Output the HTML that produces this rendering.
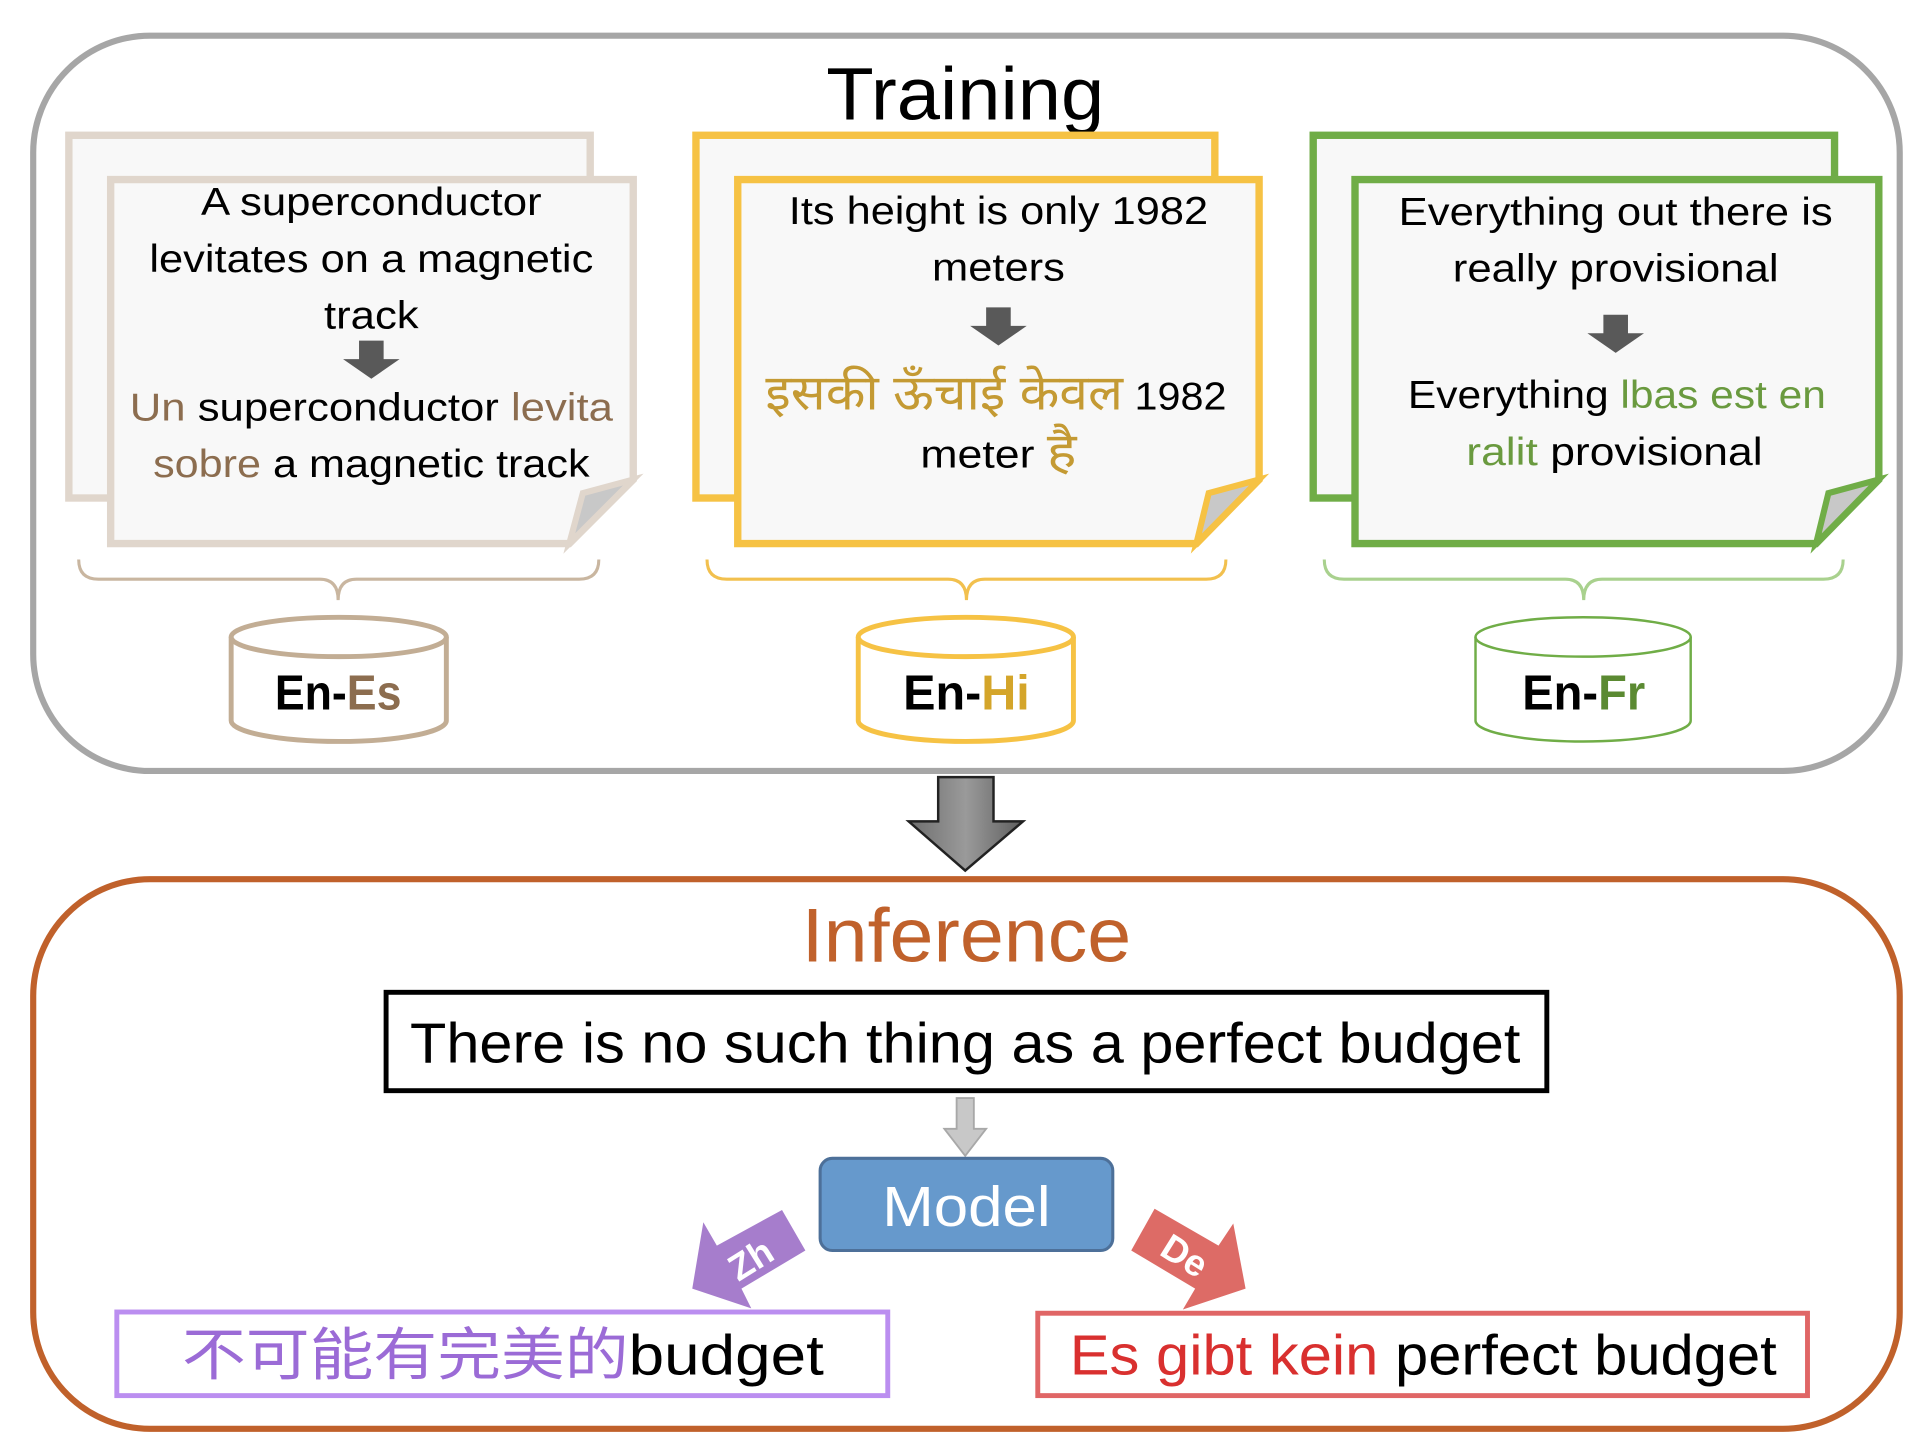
<!DOCTYPE html>
<html><head><meta charset="utf-8"><style>
html,body{margin:0;padding:0;background:#fff;}
svg{display:block;}
text{font-family:"Liberation Sans","Noto Sans CJK SC",sans-serif;}
</style></head><body>
<svg width="1928" height="1442" viewBox="0 0 1568 1172.7" xmlns="http://www.w3.org/2000/svg">
<defs>
<linearGradient id="g1" x1="0" y1="0" x2="1" y2="0">
<stop offset="0" stop-color="#6e6e6e"/><stop offset="0.5" stop-color="#9a9a9a"/><stop offset="1" stop-color="#5e5e5e"/>
</linearGradient>
</defs>
<rect width="1568" height="1173" fill="#fff"/>
<!-- Training box -->
<rect x="27" y="29" width="1518" height="598" rx="95" fill="#fff" stroke="#a6a6a6" stroke-width="5"/>
<text x="785" y="97" font-size="60" text-anchor="middle" textLength="226" lengthAdjust="spacingAndGlyphs">Training</text>

<!-- Es card -->
<rect x="56" y="110" width="424" height="295" fill="#f8f8f8" stroke="#e0d6cc" stroke-width="6"/>
<polygon points="90,146 515,146 515,390 463,442 90,442" fill="#f8f8f8" stroke="#e0d6cc" stroke-width="6"/>
<polygon points="463,442 474,401 515,390" fill="#c8c8c8" stroke="#e0d6cc" stroke-width="5"/>
<g font-size="32" text-anchor="middle" fill="#000">
<text x="302" y="175" textLength="277" lengthAdjust="spacingAndGlyphs">A superconductor</text>
<text x="302" y="221" textLength="361" lengthAdjust="spacingAndGlyphs">levitates on a magnetic</text>
<text x="302" y="267" textLength="77" lengthAdjust="spacingAndGlyphs">track</text>
<text x="302" y="342" textLength="393" lengthAdjust="spacingAndGlyphs"><tspan fill="#8c6d4f">Un</tspan> superconductor <tspan fill="#8c6d4f">levita</tspan></text>
<text x="302" y="388" textLength="355" lengthAdjust="spacingAndGlyphs"><tspan fill="#8c6d4f">sobre</tspan> a magnetic track</text>
</g>
<polygon points="292,277 312,277 312,292 325,292 302,308 279,292 292,292" fill="#595959"/>
<path d="M64,455 Q64,471 80,471 L260,471 Q275,471 275,488 Q275,471 290,471 L471,471 Q487,471 487,455" fill="none" stroke="#c9b6a0" stroke-width="2.5"/>
<path d="M188,518 v68 a87.5,17 0 0 0 175,0 v-68" fill="#fff" stroke="#c2ad94" stroke-width="4"/>
<ellipse cx="275.5" cy="518" rx="87.5" ry="16" fill="#fff" stroke="#c2ad94" stroke-width="4"/>
<text x="275" y="577" font-size="40" font-weight="bold" text-anchor="middle" textLength="103" lengthAdjust="spacingAndGlyphs">En-<tspan fill="#8c6d4f">Es</tspan></text>

<!-- Hi card -->
<rect x="566" y="110" width="422" height="295" fill="#f8f8f8" stroke="#f6c244" stroke-width="6"/>
<polygon points="600,146 1024,146 1024,390 973,442 600,442" fill="#f8f8f8" stroke="#f6c244" stroke-width="6"/>
<polygon points="973,442 983,401 1024,390" fill="#c8c8c8" stroke="#f6c244" stroke-width="5"/>
<g font-size="32" text-anchor="middle" fill="#000">
<text x="812" y="182" textLength="341" lengthAdjust="spacingAndGlyphs">Its height is only 1982</text>
<text x="812" y="228" textLength="108" lengthAdjust="spacingAndGlyphs">meters</text>
<text x="810" y="333" textLength="375" lengthAdjust="spacingAndGlyphs"><tspan fill="#c49a33" font-size="40">इसकी ऊँचाई केवल</tspan> 1982</text>
<text x="812" y="380" textLength="127" lengthAdjust="spacingAndGlyphs">meter <tspan fill="#c49a33" font-size="40">है</tspan></text>
</g>
<polygon points="802,250 822,250 822,265 835,265 812,281 789,265 802,265" fill="#595959"/>
<path d="M575,455 Q575,471 591,471 L771,471 Q786,471 786,488 Q786,471 801,471 L981,471 Q997,471 997,455" fill="none" stroke="#f2c04e" stroke-width="2.5"/>
<path d="M698,518 v68 a87.5,17 0 0 0 175,0 v-68" fill="#fff" stroke="#f6c244" stroke-width="4"/>
<ellipse cx="785.5" cy="518" rx="87.5" ry="16" fill="#fff" stroke="#f6c244" stroke-width="4"/>
<text x="786" y="577" font-size="40" font-weight="bold" text-anchor="middle" textLength="103" lengthAdjust="spacingAndGlyphs">En-<tspan fill="#d4a52a">Hi</tspan></text>

<!-- Fr card -->
<rect x="1068" y="110" width="424" height="295" fill="#f8f8f8" stroke="#70ad47" stroke-width="6"/>
<polygon points="1102,146 1528,146 1528,390 1477,442 1102,442" fill="#f8f8f8" stroke="#70ad47" stroke-width="6"/>
<polygon points="1477,442 1487,401 1528,390" fill="#c8c8c8" stroke="#70ad47" stroke-width="5"/>
<g font-size="32" text-anchor="middle" fill="#000">
<text x="1314" y="183" textLength="353" lengthAdjust="spacingAndGlyphs">Everything out there is</text>
<text x="1314" y="229" textLength="265" lengthAdjust="spacingAndGlyphs">really provisional</text>
<text x="1315" y="332" textLength="340" lengthAdjust="spacingAndGlyphs">Everything <tspan fill="#6a9a3f">lbas est en</tspan></text>
<text x="1313" y="378" textLength="241" lengthAdjust="spacingAndGlyphs"><tspan fill="#6a9a3f">ralit</tspan> provisional</text>
</g>
<polygon points="1304,256 1324,256 1324,271 1337,271 1314,287 1291,271 1304,271" fill="#595959"/>
<path d="M1077,455 Q1077,471 1093,471 L1273,471 Q1288,471 1288,488 Q1288,471 1303,471 L1483,471 Q1499,471 1499,455" fill="none" stroke="#a9d18e" stroke-width="2.5"/>
<path d="M1200,518 v68 a87.5,17 0 0 0 175,0 v-68" fill="#fff" stroke="#70ad47" stroke-width="2"/>
<ellipse cx="1287.5" cy="518" rx="87.5" ry="16" fill="#fff" stroke="#70ad47" stroke-width="2"/>
<text x="1288" y="577" font-size="40" font-weight="bold" text-anchor="middle" textLength="100" lengthAdjust="spacingAndGlyphs">En-<tspan fill="#5b8a32">Fr</tspan></text>

<!-- big arrow -->
<polygon points="763,632 808,632 808,668 832,668 785,708 739,668 763,668" fill="url(#g1)" stroke="#222" stroke-width="2"/>

<!-- Inference box -->
<rect x="27" y="715" width="1518" height="447" rx="95" fill="#fff" stroke="#c0612b" stroke-width="5"/>
<text x="786" y="782" font-size="62" fill="#c0612b" text-anchor="middle" textLength="268" lengthAdjust="spacingAndGlyphs">Inference</text>
<rect x="314" y="807" width="944" height="80" fill="#fff" stroke="#000" stroke-width="4"/>
<text x="785" y="864" font-size="46" text-anchor="middle" textLength="903" lengthAdjust="spacingAndGlyphs">There is no such thing as a perfect budget</text>
<polygon points="778,893 792,893 792,918 802,918 785,940 768,918 778,918" fill="#c8c8c8" stroke="#a8a8a8" stroke-width="1.5"/>
<rect x="667" y="942" width="238" height="75" rx="10" fill="#6699cc" stroke="#4d7099" stroke-width="2.5"/>
<text x="786" y="997" font-size="46" fill="#fff" text-anchor="middle" textLength="137" lengthAdjust="spacingAndGlyphs">Model</text>

<polygon points="636,984 655,1017 603,1048 611,1064 563,1048 572,994 583,1013" fill="#a67dcc"/>
<text x="0" y="0" font-size="30" font-weight="bold" fill="#fff" text-anchor="middle" transform="translate(616,1033) rotate(-32)">Zh</text>
<polygon points="939,983 991,1013 1003,995 1013,1048 962,1065 972,1048 920,1017" fill="#dd6b66"/>
<text x="0" y="0" font-size="30" font-weight="bold" fill="#fff" text-anchor="middle" transform="translate(958,1030) rotate(32)">De</text>

<rect x="95" y="1067" width="627" height="68" fill="#fff" stroke="#bb8ef0" stroke-width="4"/>
<text x="148" y="1118" font-size="46" textLength="522" lengthAdjust="spacingAndGlyphs"><tspan fill="#9b6bd6">不可能有完美的</tspan>budget</text>
<rect x="844" y="1068" width="626" height="67" fill="#fff" stroke="#e06666" stroke-width="4"/>
<text x="870" y="1118" font-size="46" textLength="575" lengthAdjust="spacingAndGlyphs"><tspan fill="#d9302f">Es gibt kein</tspan> perfect budget</text>
</svg>
</body></html>
